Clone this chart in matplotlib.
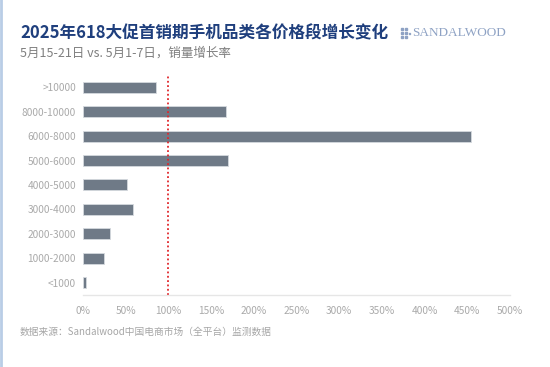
import matplotlib.pyplot as plt
from matplotlib.lines import Line2D
from matplotlib.patches import Rectangle

plt.rcParams['font.family'] = ['Noto Sans CJK SC', 'DejaVu Sans']

# 价格段与增长率（从下到上）
price_bands = ['<1000', '1000-2000', '2000-3000', '3000-4000', '4000-5000',
               '5000-6000', '6000-8000', '8000-10000', '>10000']
growth = [0.04, 0.25, 0.32, 0.58, 0.52, 1.70, 4.54, 1.67, 0.86]
xticks = [0, 0.5, 1.0, 1.5, 2.0, 2.5, 3.0, 3.5, 4.0, 4.5, 5.0]

title = '2025年618大促首销期手机品类各价格段增长变化'
subtitle = '5月15-21日 vs. 5月1-7日，销量增长率'
source = '数据来源：Sandalwood中国电商市场（全平台）监测数据'

fig = plt.figure(figsize=(5.5, 3.67), dpi=100)
ax = fig.add_axes([0.151, 0.196, 0.776, 0.60])

ax.barh(range(len(price_bands)), growth, height=0.45, color='#6f7a87',
        edgecolor='#d5d9de', linewidth=0.6)
ax.axvline(1.0, color='#e0262b', linestyle=(0, (1.0, 1.4)), linewidth=1.3)

ax.set_xlim(0, 5.0)
ax.set_ylim(-0.5, len(price_bands) - 0.5)
ax.set_yticks(range(len(price_bands)))
ax.set_yticklabels(price_bands)
ax.set_xticks(xticks)
ax.set_xticklabels([f'{int(round(t * 100))}%' for t in xticks])
ax.tick_params(axis='both', length=0, labelsize=7.3, labelcolor='#a9a9a9')
ax.tick_params(axis='x', pad=8)
ax.tick_params(axis='y', pad=5)

for s in ['top', 'right', 'left']:
    ax.spines[s].set_visible(False)
ax.spines['bottom'].set_color('#e6e6e6')
ax.spines['bottom'].set_linewidth(1.0)

# 标题与说明
fig.text(20 / 550, 1 - 33 / 367, title, fontsize=12, fontweight='bold',
         color='#1f3f7d', va='center', ha='left')
fig.text(20 / 550, 1 - 53 / 367, subtitle, fontsize=9,
         color='#7f7f7f', va='center', ha='left')
fig.text(20 / 550, 1 - 332 / 367, source, fontsize=7,
         color='#a6a6a6', va='center', ha='left')

# logo
fig.text(412 / 550, 1 - 33 / 367, 'SANDALWOOD', fontsize=9.5,
         family='Liberation Serif', color='#8ea2c4', va='center', ha='left')
for dx, dy in [(0, 0), (4, 0), (0, 4), (4, 4), (0, -4), (4, -4)]:
    fig.add_artist(Rectangle(((401 + dx) / 550, (1 - 33 / 367) + dy / 367 - 1 / 367),
                             2 / 550, 2 / 367, color='#8ea2c4',
                             transform=fig.transFigure))
fig.add_artist(Rectangle((408.5 / 550, 1 - 34 / 367), 1.5 / 550, 1.5 / 367,
                         color='#8ea2c4', transform=fig.transFigure))

# 左侧边框
fig.add_artist(Line2D([0.002, 0.002], [0, 1], color='#b9cde6', linewidth=2,
                      transform=fig.transFigure))

fig.savefig('out.png', dpi=100)
